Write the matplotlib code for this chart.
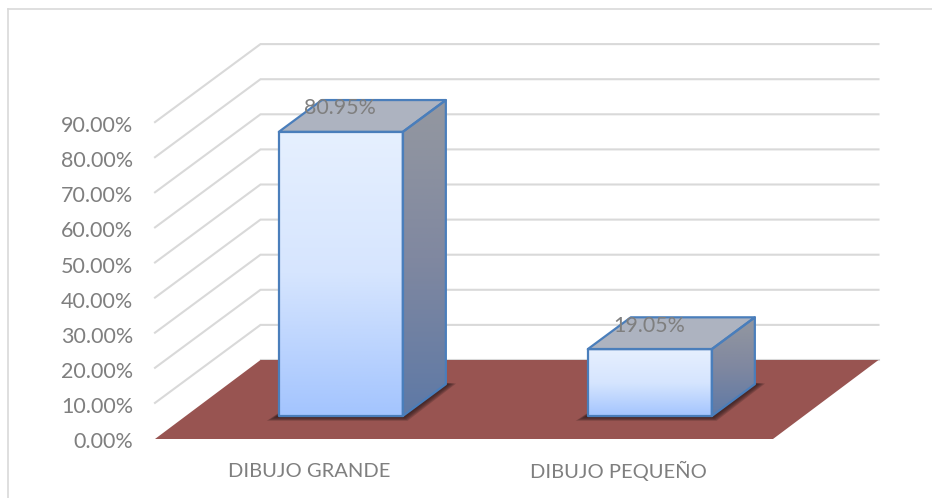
import numpy as np
import matplotlib
matplotlib.use("Agg")
import matplotlib.pyplot as plt
from matplotlib.patches import Polygon
from matplotlib.colors import LinearSegmentedColormap

categories = ["DIBUJO GRANDE", "DIBUJO PEQUEÑO"]
values = [80.95, 19.05]
value_labels = ["80.95%", "19.05%"]
ticks = [0, 10, 20, 30, 40, 50, 60, 70, 80, 90]
tick_labels = ["0.00%", "10.00%", "20.00%", "30.00%", "40.00%", "50.00%",
               "60.00%", "70.00%", "80.00%", "90.00%"]

W, H = 932, 498
PX_CAT, PX_VAL = 309.0, 3.51
X0, Y0 = 155.0, 438.0
DX, DY = 105.5 / PX_CAT, 78.0 / PX_VAL
BAR_W = 124.0 / PX_CAT
D0, D1 = 0.282, 0.69

plt.rcParams["font.family"] = ["Lato", "DejaVu Sans"]
fig = plt.figure(figsize=(W / 100, H / 100), dpi=100, facecolor="white")
ax = fig.add_axes([0, 0, 1, 1])
ax.axis("off")


def proj(c, v, d=0.0, px=0.0, py=0.0):
    """Oblique projection; px, py are extra pixel offsets (py downwards)."""
    return (c + d * DX + px / PX_CAT, v + d * DY - py / PX_VAL)


# outer chart border (left and top edges are visible)
bx, by = (8 - X0) / PX_CAT, (Y0 - 9) / PX_VAL
ax.plot([bx, bx], [(Y0 - H) / PX_VAL, by], color="#d9d9d9", lw=1.2, zorder=1)
ax.plot([bx, (W - X0) / PX_CAT], [by, by], color="#d9d9d9", lw=1.2, zorder=1)

# gridlines
for t in ticks[1:]:
    pts = [proj(0, t, 0), proj(0, t, 1), proj(2, t, 1)]
    ax.plot(*zip(*pts), color="#d9d9d9", lw=1.5, zorder=2, solid_joinstyle="miter")
ax.plot(*zip(proj(0, 0, 1), proj(2, 0, 1)), color="#d9d9d9", lw=1.5, zorder=2)

# floor
ax.add_patch(Polygon([proj(0, 0, 0, 0, 1), proj(0, 0, 1), proj(2, 0, 1), proj(2, 0, 0, 0, 1)],
                     closed=True, fc="#985451", ec="none", zorder=3))

face_cmap = LinearSegmentedColormap.from_list("face", ["#E6F0FF", "#D6E5FE", "#A3C4FE"])
side_cmap = LinearSegmentedColormap.from_list("side", ["#9498A0", "#8088A0", "#5E79A6"])


def grad(poly, cmap, zorder):
    xs, ys = zip(*poly)
    g = np.linspace(0, 1, 256).reshape(-1, 1)
    im = ax.imshow(g, cmap=cmap, extent=[min(xs), max(xs), min(ys), max(ys)],
                   origin="upper", aspect="auto", zorder=zorder)
    clip = Polygon(poly, closed=True, transform=ax.transData, fc="none", ec="none")
    ax.add_patch(clip)
    im.set_clip_path(clip)


EDGE = "#4A7EBB"
for i, (val, lab) in enumerate(zip(values, value_labels)):
    cen = i + 0.5 + 0.005
    l, r = cen - BAR_W / 2, cen + BAR_W / 2
    # soft shadow on the floor, drawn as growing translucent layers
    for k in range(6, 0, -1):
        shadow = [proj(l, 0, D0, -k * 2.0, k * 0.8), proj(r, 0, D0, k * 0.8, k * 0.8),
                  proj(r, 0, D1, k * 1.7, k * -0.1), proj(r, 0, D1, -k, -k * 0.3),
                  proj(l, 0, D1)]
        ax.add_patch(Polygon(shadow, closed=True, fc="#2e1c1c", ec="none",
                             alpha=0.24, zorder=4))
    front = [proj(l, 0, D0), proj(r, 0, D0), proj(r, val, D0), proj(l, val, D0)]
    side = [proj(r, 0, D0), proj(r, 0, D1), proj(r, val, D1), proj(r, val, D0)]
    top = [proj(l, val, D0), proj(r, val, D0), proj(r, val, D1), proj(l, val, D1)]
    grad(side, side_cmap, 5)
    grad(front, face_cmap, 5)
    ax.add_patch(Polygon(top, closed=True, fc="#ADB3C0", ec="none", zorder=5))
    for poly in (side, top, front):
        ax.add_patch(Polygon(poly, closed=True, fc="none", ec=EDGE, lw=1.6,
                             joinstyle="round", zorder=6))
    tx, ty = proj(cen, val, D0, -1, -23.5)
    ax.text(tx, ty, lab, ha="center", va="center", fontsize=15.4, color="#7f7f7f", zorder=7)
    ax.text(i + 0.5, (Y0 - 471) / PX_VAL, categories[i], ha="center", va="center",
            fontsize=14.5, color="#7f7f7f", zorder=7)

# value-axis labels
for t, lab in zip(ticks, tick_labels):
    ax.text((133 - X0) / PX_CAT, t - 4 / PX_VAL, lab, ha="right", va="center",
            fontsize=15.5, color="#7f7f7f", zorder=7)

# keep limits after imshow
ax.set_xlim(-X0 / PX_CAT, (W - X0) / PX_CAT)
ax.set_ylim((Y0 - H) / PX_VAL, Y0 / PX_VAL)
fig.savefig("out.png", dpi=100)
